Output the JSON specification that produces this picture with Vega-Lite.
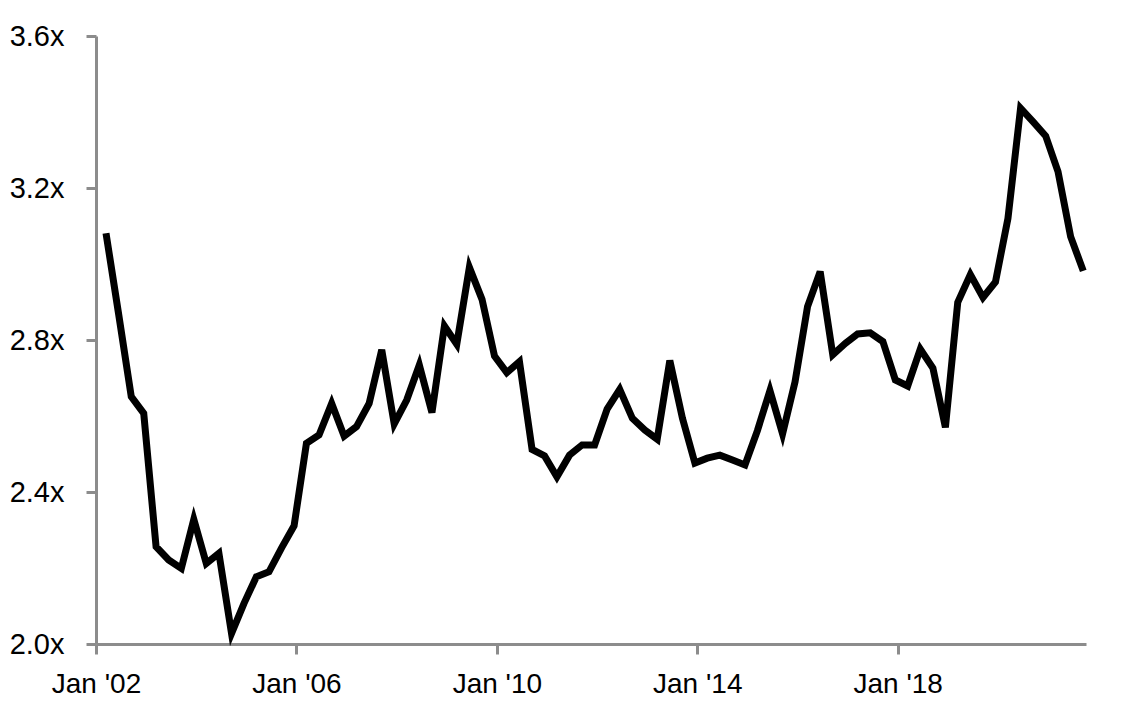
{
  "$schema": "https://vega.github.io/schema/vega-lite/v6.json",
  "autosize": "none",
  "width": 990,
  "height": 608,
  "padding": {"left": 96, "top": 36, "right": 57, "bottom": 74},
  "background": "white",
  "config": {"view": {"stroke": null}, "font": "Liberation Sans"},
  "data": {
    "values": [
      {"date": "2002-03-15", "value": 3.081},
      {"date": "2002-06-15", "value": 2.868},
      {"date": "2002-09-15", "value": 2.651},
      {"date": "2002-12-15", "value": 2.607},
      {"date": "2003-03-15", "value": 2.256},
      {"date": "2003-06-15", "value": 2.221},
      {"date": "2003-09-15", "value": 2.199},
      {"date": "2003-12-15", "value": 2.328},
      {"date": "2004-03-15", "value": 2.212},
      {"date": "2004-06-15", "value": 2.239},
      {"date": "2004-09-15", "value": 2.028},
      {"date": "2004-12-15", "value": 2.107},
      {"date": "2005-03-15", "value": 2.177},
      {"date": "2005-06-15", "value": 2.19},
      {"date": "2005-09-15", "value": 2.253},
      {"date": "2005-12-15", "value": 2.311},
      {"date": "2006-03-15", "value": 2.528},
      {"date": "2006-06-15", "value": 2.55},
      {"date": "2006-09-15", "value": 2.633},
      {"date": "2006-12-15", "value": 2.547},
      {"date": "2007-03-15", "value": 2.572},
      {"date": "2007-06-15", "value": 2.633},
      {"date": "2007-09-15", "value": 2.774},
      {"date": "2007-12-15", "value": 2.579},
      {"date": "2008-03-15", "value": 2.642},
      {"date": "2008-06-15", "value": 2.734},
      {"date": "2008-09-15", "value": 2.609},
      {"date": "2008-12-15", "value": 2.837},
      {"date": "2009-03-15", "value": 2.789},
      {"date": "2009-06-15", "value": 2.991},
      {"date": "2009-09-15", "value": 2.907},
      {"date": "2009-12-15", "value": 2.758},
      {"date": "2010-03-15", "value": 2.714},
      {"date": "2010-06-15", "value": 2.743},
      {"date": "2010-09-15", "value": 2.512},
      {"date": "2010-12-15", "value": 2.495},
      {"date": "2011-03-15", "value": 2.44},
      {"date": "2011-06-15", "value": 2.497},
      {"date": "2011-09-15", "value": 2.524},
      {"date": "2011-12-15", "value": 2.524},
      {"date": "2012-03-15", "value": 2.618},
      {"date": "2012-06-15", "value": 2.67},
      {"date": "2012-09-15", "value": 2.594},
      {"date": "2012-12-15", "value": 2.563},
      {"date": "2013-03-15", "value": 2.539},
      {"date": "2013-06-15", "value": 2.746},
      {"date": "2013-09-15", "value": 2.594},
      {"date": "2013-12-15", "value": 2.476},
      {"date": "2014-03-15", "value": 2.489},
      {"date": "2014-06-15", "value": 2.497},
      {"date": "2014-09-15", "value": 2.484},
      {"date": "2014-12-15", "value": 2.471},
      {"date": "2015-03-15", "value": 2.561},
      {"date": "2015-06-15", "value": 2.667},
      {"date": "2015-09-15", "value": 2.553},
      {"date": "2015-12-15", "value": 2.69},
      {"date": "2016-03-15", "value": 2.888},
      {"date": "2016-06-15", "value": 2.98},
      {"date": "2016-09-15", "value": 2.761},
      {"date": "2016-12-15", "value": 2.791},
      {"date": "2017-03-15", "value": 2.816},
      {"date": "2017-06-15", "value": 2.819},
      {"date": "2017-09-15", "value": 2.796},
      {"date": "2017-12-15", "value": 2.695},
      {"date": "2018-03-15", "value": 2.679},
      {"date": "2018-06-15", "value": 2.776},
      {"date": "2018-09-15", "value": 2.726},
      {"date": "2018-12-15", "value": 2.57},
      {"date": "2019-03-15", "value": 2.899},
      {"date": "2019-06-15", "value": 2.972},
      {"date": "2019-09-15", "value": 2.912},
      {"date": "2019-12-15", "value": 2.953},
      {"date": "2020-03-15", "value": 3.12},
      {"date": "2020-06-15", "value": 3.41},
      {"date": "2020-09-15", "value": 3.374},
      {"date": "2020-12-15", "value": 3.337},
      {"date": "2021-03-15", "value": 3.243},
      {"date": "2021-06-15", "value": 3.072},
      {"date": "2021-09-15", "value": 2.982}
    ]
  },
  "mark": {"type": "line", "color": "black", "strokeWidth": 7, "strokeJoin": "miter", "clip": false},
  "encoding": {
    "x": {
      "field": "date",
      "type": "temporal",
      "scale": {"type": "utc", "domain": ["2002-01-01", "2021-10-05"]},
      "axis": {
        "title": null,
        "values": [
          {"year": 2002, "month": 1, "date": 1, "utc": true},
          {"year": 2006, "month": 1, "date": 1, "utc": true},
          {"year": 2010, "month": 1, "date": 1, "utc": true},
          {"year": 2014, "month": 1, "date": 1, "utc": true},
          {"year": 2018, "month": 1, "date": 1, "utc": true}
        ],
        "labelExpr": "utcFormat(datum.value, \"%b '%y\")",
        "grid": false,
        "domainColor": "#8c8c8c",
        "domainWidth": 3,
        "tickColor": "#8c8c8c",
        "tickWidth": 3,
        "tickSize": 10,
        "labelPadding": 16,
        "labelFont": "Liberation Sans",
        "labelFontSize": 28,
        "labelColor": "black",
        "labelFlush": false,
        "labelOverlap": false
      }
    },
    "y": {
      "field": "value",
      "type": "quantitative",
      "scale": {"domain": [2.0, 3.6], "nice": false, "zero": false},
      "axis": {
        "title": null,
        "values": [2.0, 2.4, 2.8, 3.2, 3.6],
        "labelExpr": "format(datum.value, '.1f') + 'x'",
        "grid": false,
        "domainColor": "#8c8c8c",
        "domainWidth": 3,
        "tickColor": "#8c8c8c",
        "tickWidth": 3,
        "tickSize": 10,
        "labelPadding": 22,
        "labelFont": "Liberation Sans",
        "labelFontSize": 29,
        "labelColor": "black",
        "labelFlush": false,
        "labelOverlap": false
      }
    }
  }
}
